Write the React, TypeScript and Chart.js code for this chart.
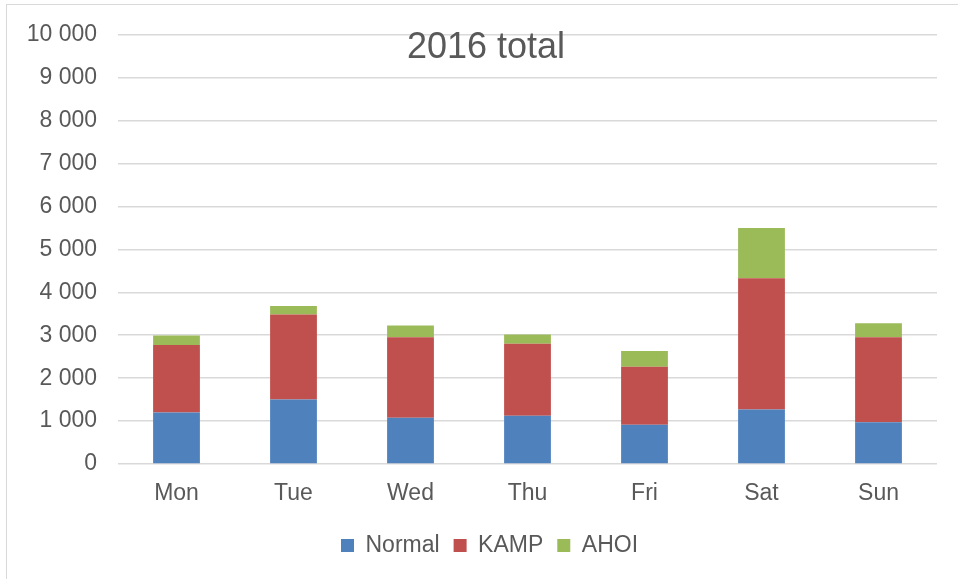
import React, { useEffect, useRef } from "react";
import { Chart, registerables } from "chart.js";

Chart.register(...registerables);

const categories = ["Mon", "Tue", "Wed", "Thu", "Fri", "Sat", "Sun"];
const normalValues = [1200, 1500, 1080, 1125, 915, 1270, 970];
const kampValues = [1570, 1985, 1875, 1675, 1350, 3060, 1985];
const ahoiValues = [225, 195, 270, 215, 370, 1170, 325];
const titleText = "2016 total";

const FONT = "'Liberation Sans', Arial, sans-serif";
const TEXT = "#595959";
const GRID = "#d9d9d9";

const fmt = (v: number) => String(v).replace(/\B(?=(\d{3})+(?!\d))/g, " ");

const titlePlugin = {
  id: "overlayTitle",
  afterLayout(chart: any) {
    const lg = chart.legend;
    if (lg) {
      lg.left += 21;
      lg.right += 21;
    }
  },
  afterDraw(chart: any) {
    const ctx = chart.ctx;
    ctx.save();
    ctx.font = `36px ${FONT}`;
    ctx.fillStyle = TEXT;
    ctx.textAlign = "center";
    ctx.textBaseline = "alphabetic";
    ctx.fillText(titleText, 486, 58);
    ctx.restore();
  },
};

export default function App() {
  const ref = useRef<HTMLCanvasElement | null>(null);
  useEffect(() => {
    if (!ref.current) return;
    const chart = new Chart(ref.current, {
      type: "bar",
      data: {
        labels: categories,
        datasets: [
          { label: "Normal", data: normalValues, backgroundColor: "#4f81bd" },
          { label: "KAMP", data: kampValues, backgroundColor: "#c0504d" },
          { label: "AHOI", data: ahoiValues, backgroundColor: "#9bbb59" },
        ],
      },
      options: {
        responsive: false,
        animation: false,
        layout: { padding: { left: 0, right: 21, top: 34, bottom: 12 } },
        datasets: { bar: { barPercentage: 1, categoryPercentage: 0.4 } },
        scales: {
          x: {
            stacked: true,
            grid: { display: false, drawTicks: false },
            border: { display: false },
            ticks: { color: TEXT, font: { family: FONT, size: 23 }, padding: 16 },
            afterFit: (s: any) => { s.height = 56; },
          },
          y: {
            stacked: true,
            min: 0,
            max: 10000,
            grid: { color: GRID, lineWidth: 1.5, drawTicks: false },
            border: { display: false },
            ticks: {
              stepSize: 1000,
              color: TEXT,
              font: { family: FONT, size: 23 },
              padding: 21,
              callback: (v: any) => fmt(Number(v)),
            },
            afterFit: (s: any) => { s.width = 118; },
          },
        },
        plugins: {
          title: { display: false },
          tooltip: { enabled: false },
          legend: {
            position: "bottom",
            labels: {
              color: TEXT,
              font: { family: FONT, size: 23 },
              boxWidth: 13,
              boxHeight: 13,
              padding: 14,
            },
          },
        },
      },
      plugins: [titlePlugin],
    });
    return () => chart.destroy();
  }, []);
  return (
    <>
      <div
        style={{
          position: "fixed",
          left: 6,
          top: 4,
          width: 1000,
          height: 700,
          border: `1px solid ${GRID}`,
          boxSizing: "border-box",
          background: "#fff",
        }}
      />
      <canvas
        ref={ref}
        width={958}
        height={579}
        style={{ position: "fixed", left: 0, top: 0, width: 958, height: 579 }}
      />
    </>
  );
}
